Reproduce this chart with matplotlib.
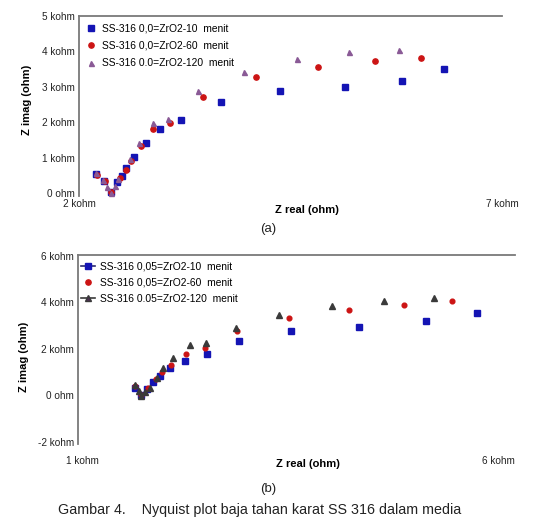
import numpy as np
import matplotlib
matplotlib.use("Agg")
import matplotlib.pyplot as plt
from matplotlib.lines import Line2D

plt.rcParams['font.family'] = ['Liberation Sans', 'DejaVu Sans']

# ---- data (kohm) ----
# (a) SS-316 0,0 = ZrO2
a_x10 = [2.20, 2.30, 2.38, 2.45, 2.51, 2.56, 2.65, 2.79, 2.96, 3.21, 3.68, 4.38, 5.14, 5.82, 6.32]
a_y10 = [0.54, 0.34, 0.03, 0.31, 0.48, 0.71, 1.02, 1.41, 1.81, 2.06, 2.57, 2.88, 2.99, 3.16, 3.50]
a_x60 = [2.21, 2.31, 2.38, 2.49, 2.55, 2.62, 2.73, 2.88, 3.07, 3.47, 4.09, 4.83, 5.50, 6.04]
a_y60 = [0.51, 0.34, 0.03, 0.42, 0.65, 0.90, 1.33, 1.81, 1.98, 2.71, 3.28, 3.56, 3.73, 3.81]
a_x120 = [2.20, 2.28, 2.33, 2.38, 2.42, 2.46, 2.60, 2.71, 2.88, 3.05, 3.41, 3.95, 4.58, 5.19, 5.78]
a_y120 = [0.56, 0.37, 0.18, 0.00, 0.20, 0.40, 0.96, 1.41, 1.98, 2.09, 2.88, 3.42, 3.79, 3.98, 4.04]

# (b) SS-316 0,05 = ZrO2
b_x10 = [1.64, 1.71, 1.78, 1.85, 1.94, 2.06, 2.23, 2.50, 2.88, 3.51, 4.33, 5.13, 5.74]
b_y10 = [0.34, 0.00, 0.26, 0.56, 0.82, 1.16, 1.50, 1.80, 2.36, 2.75, 2.96, 3.18, 3.56]
b_x60 = [1.64, 1.71, 1.79, 1.89, 1.96, 2.07, 2.25, 2.47, 2.86, 3.48, 4.20, 4.87, 5.44]
b_y60 = [0.39, 0.00, 0.30, 0.69, 0.99, 1.29, 1.80, 2.06, 2.79, 3.35, 3.69, 3.91, 4.08]
b_x120 = [1.64, 1.68, 1.71, 1.76, 1.82, 1.90, 1.97, 2.09, 2.29, 2.49, 2.85, 3.37, 4.00, 4.63, 5.23]
b_y120 = [0.43, 0.20, -0.04, 0.15, 0.34, 0.77, 1.16, 1.59, 2.15, 2.27, 2.92, 3.48, 3.86, 4.08, 4.21]

a_labels = ['SS-316 0,0=ZrO2-10  menit', 'SS-316 0,0=ZrO2-60  menit', 'SS-316 0.0=ZrO2-120  menit']
b_labels = ['SS-316 0,05=ZrO2-10  menit', 'SS-316 0,05=ZrO2-60  menit', 'SS-316 0.05=ZrO2-120  menit']

a_yticks = [0, 1, 2, 3, 4, 5]
a_yticklabels = ['0 ohm', '1 kohm', '2 kohm', '3 kohm', '4 kohm', '5 kohm']
a_xticks = [2, 7]
a_xticklabels = ['2 kohm', '7 kohm']
b_yticks = [-2, 0, 2, 4, 6]
b_yticklabels = ['-2 kohm', '0 ohm', '2 kohm', '4 kohm', '6 kohm']
b_xticks = [1, 6]
b_xticklabels = ['1 kohm', '6 kohm']

blue = '#1414b4'
red = '#cc1414'
purple = '#8a5a96'
dark = '#3a3a3a'
spine_col = '#7a7a7a'

W, H = 539, 525
fig = plt.figure(figsize=(W / 100, H / 100), dpi=100)


def px_axes(l, t, r, b):
    return fig.add_axes([l / W, 1 - b / H, (r - l) / W, (b - t) / H])


def style(ax):
    for s in ['right', 'bottom']:
        ax.spines[s].set_visible(False)
    for s in ['top', 'left']:
        ax.spines[s].set_color(spine_col)
        ax.spines[s].set_linewidth(1.3)
    ax.tick_params(length=0, labelsize=7.2, colors='#222222')
    ax.tick_params(axis='y', pad=3)


# ---- (a) ----
ax1 = px_axes(79, 16, 502, 196.5)
ax1.plot(a_x10, a_y10, 's', color=blue, ms=4.0, ls='none', label=a_labels[0])
ax1.plot(a_x60, a_y60, 'o', color=red, ms=3.8, ls='none', label=a_labels[1])
ax1.plot(a_x120, a_y120, '^', color=purple, ms=3.6, ls='none', label=a_labels[2])
ax1.set_xlim(2, 7)
ax1.set_ylim(-0.1, 5.0)
ax1.set_yticks(a_yticks, a_yticklabels)
ax1.set_xticks(a_xticks, a_xticklabels)
style(ax1)
ax1.tick_params(axis='x', pad=2)
ax1.set_xlabel('Z real (ohm)', fontsize=8, fontweight='bold')
ax1.xaxis.set_label_coords(0.539, -0.045)
ax1.set_ylabel('Z imag (ohm)', fontsize=8, fontweight='bold')
ax1.yaxis.set_label_coords(-0.112, 0.535)
ax1.legend(loc='upper left', bbox_to_anchor=(0.016, 0.958), frameon=False,
           fontsize=7.4, borderpad=0, borderaxespad=0, handlelength=1.0,
           handletextpad=0.6, labelspacing=0.72)

# ---- (b) ----
ax2 = px_axes(78, 255, 515, 444)
ax2.plot(b_x10, b_y10, 's', color=blue, ms=4.0, ls='none')
ax2.plot(b_x60, b_y60, 'o', color=red, ms=3.4, ls='none')
ax2.plot(b_x120, b_y120, '^', color=dark, ms=3.7, ls='none')
ax2.set_xlim(0.95, 6.2)
ax2.set_ylim(-2.09, 6.04)
ax2.set_yticks(b_yticks, b_yticklabels)
ax2.set_xticks(b_xticks, b_xticklabels)
style(ax2)
ax2.tick_params(axis='x', pad=9)
ax2.set_xlabel('Z real (ohm)', fontsize=8, fontweight='bold')
ax2.xaxis.set_label_coords(0.526, -0.078)
ax2.set_ylabel('Z imag (ohm)', fontsize=8, fontweight='bold')
ax2.yaxis.set_label_coords(-0.112, 0.46)
handles = [
    Line2D([], [], color='#2a2a70', lw=1.2, marker='s', ms=4.3, mfc=blue, mec=blue),
    Line2D([], [], color=red, lw=0, marker='o', ms=3.8),
    Line2D([], [], color=dark, lw=1.2, marker='^', ms=4.5, mfc='#4a3050', mec=dark),
]
ax2.legend(handles, b_labels, loc='upper left', bbox_to_anchor=(0.006, 0.965),
           frameon=False, fontsize=7.4, borderpad=0, borderaxespad=0,
           handlelength=1.4, handletextpad=0.5, labelspacing=0.6)

# ---- captions ----
fig.text(268 / W, 1 - 229 / H, '(a)', fontsize=9.5, ha='center', va='center', color='#222222')
fig.text(268 / W, 1 - 489 / H, '(b)', fontsize=9.5, ha='center', va='center', color='#222222')
fig.text(260 / W, 1 - 510 / H, 'Gambar 4.    Nyquist plot baja tahan karat SS 316 dalam media',
         fontsize=10.3, ha='center', va='center', color='#222222')

fig.savefig('out.png', dpi=100)
